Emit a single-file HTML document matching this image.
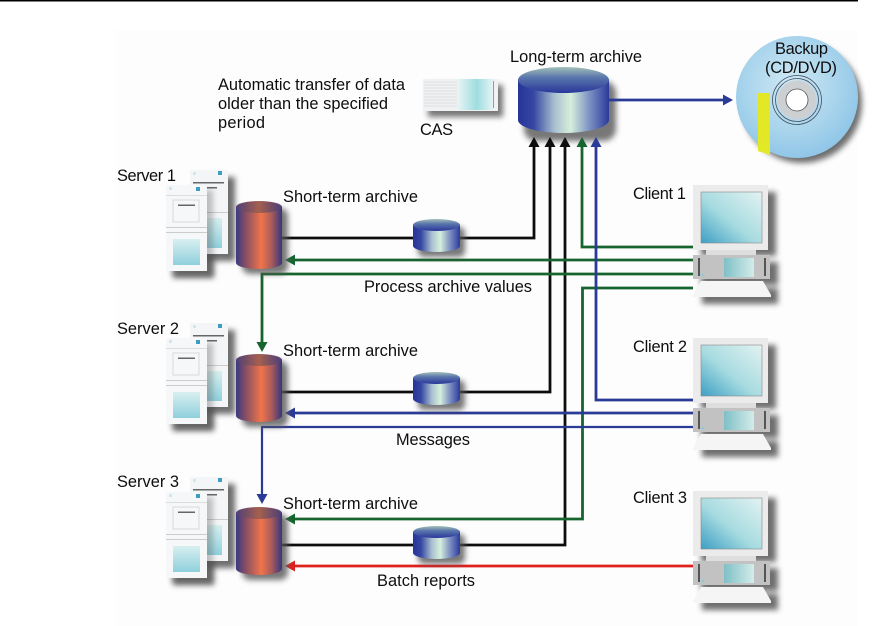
<!DOCTYPE html>
<html><head><meta charset="utf-8"><style>
html,body{margin:0;padding:0;background:#fff}
svg{display:block}
text{font-family:"Liberation Sans",sans-serif;font-size:16.4px;fill:#111}
</style></head><body>
<svg width="881" height="626" viewBox="0 0 881 626" xmlns="http://www.w3.org/2000/svg">
<defs>
<linearGradient id="blue" x1="0" x2="1" y1="0" y2="0">
<stop offset="0" stop-color="#27349a"/><stop offset=".17" stop-color="#3546a2"/><stop offset=".4" stop-color="#a9bfd0"/><stop offset=".58" stop-color="#d6efdc"/><stop offset=".78" stop-color="#7f93c4"/><stop offset="1" stop-color="#2b3a9c"/>
</linearGradient>
<linearGradient id="bluetop" x1="0" x2="0" y1="0" y2="1">
<stop offset="0" stop-color="#a2c0b8"/><stop offset=".4" stop-color="#5a76ac"/><stop offset="1" stop-color="#28379a"/>
</linearGradient>
<linearGradient id="orange" x1="0" x2="1" y1="0" y2="0">
<stop offset="0" stop-color="#3a3a80"/><stop offset=".22" stop-color="#8a5064"/><stop offset=".55" stop-color="#f0744a"/><stop offset=".78" stop-color="#a85a5c"/><stop offset="1" stop-color="#35367e"/>
</linearGradient>
<linearGradient id="orangetop" x1="0" x2="1" y1="0" y2="0">
<stop offset="0" stop-color="#4f3f78"/><stop offset=".5" stop-color="#a5604e"/><stop offset="1" stop-color="#4a3e7a"/>
</linearGradient>
<linearGradient id="screen" x1="1" x2="0" y1="0" y2="1">
<stop offset="0" stop-color="#e3f2f2"/><stop offset=".55" stop-color="#a6dbe0"/><stop offset="1" stop-color="#3d9fc4"/>
</linearGradient>
<linearGradient id="pane" x1="0" x2="0" y1="0" y2="1">
<stop offset="0" stop-color="#d8eff0"/><stop offset="1" stop-color="#8fd0dc"/>
</linearGradient>
<linearGradient id="small" x1="0" x2="1" y1="0" y2="0">
<stop offset="0" stop-color="#7fc0c6"/><stop offset="1" stop-color="#d3eceb"/>
</linearGradient>
<linearGradient id="casg" x1="0" x2="1" y1="0" y2="0">
<stop offset="0" stop-color="#eaf5f5"/><stop offset=".55" stop-color="#9fdde0"/><stop offset="1" stop-color="#e6f4f4"/>
</linearGradient>
<radialGradient id="disc" cx=".45" cy=".4" r=".7">
<stop offset="0" stop-color="#cfe8f4"/><stop offset=".55" stop-color="#a8d4ec"/><stop offset="1" stop-color="#86c0e6"/>
</radialGradient>
<filter id="sh" filterUnits="userSpaceOnUse" x="100" y="20" width="781" height="606"><feGaussianBlur stdDeviation="3"/></filter>
<filter id="soft" filterUnits="userSpaceOnUse" x="0" y="0" width="881" height="626"><feGaussianBlur stdDeviation="0.350"/></filter>

<g id="server-shadow">
<rect x="197" y="177" width="38" height="84" fill="#555" opacity=".85" filter="url(#sh)"/>
<rect x="173" y="192" width="41" height="86" fill="#555" opacity=".85" filter="url(#sh)"/>
</g>
<g id="server">
<rect x="190" y="170" width="38" height="84" fill="#f4f5f7"/>
<rect x="193" y="172" width="3" height="3" fill="#cfe8ee"/><rect x="218" y="171" width="4" height="4" fill="#3d9cc0"/>
<rect x="193" y="182" width="31" height="1.500" fill="#666"/>
<rect x="205" y="187" width="12" height="1.500" fill="#666"/>
<rect x="190" y="212" width="38" height="1" fill="#ccc"/>
<rect x="198" y="218" width="24" height="30" fill="url(#pane)"/>
<rect x="172" y="190" width="41" height="86" fill="#555" opacity=".35" filter="url(#sh)"/>
<rect x="166" y="185" width="41" height="86" fill="#f6f7f9"/>
<rect x="169" y="187" width="3" height="3" fill="#cfe8ee"/><rect x="196" y="187" width="4" height="4" fill="#3d9cc0"/>
<rect x="166" y="195" width="41" height="1" fill="#ddd"/>
<rect x="173" y="200" width="26" height="22" fill="none" stroke="#d8d8d8"/>
<rect x="178" y="204.500" width="17" height="1.500" fill="#666"/>
<rect x="166" y="227" width="41" height="1" fill="#ccc"/><rect x="166" y="232" width="41" height="1" fill="#ccc"/>
<rect x="173" y="239" width="27" height="26" fill="url(#pane)"/>
</g>

<g id="client">
<path d="M701 192h75v64h-75zM701 262h77v23h-77zM702 288h76v16h-76z" fill="#555" opacity=".85" filter="url(#sh)"/>
<rect x="693" y="185" width="75" height="65" fill="#ebebeb"/>
<rect x="701" y="192" width="61" height="51" fill="url(#screen)" stroke="#888" stroke-width=".6"/>
<rect x="706" y="250" width="50" height="5" fill="#dedede"/>
<rect x="693" y="255" width="77" height="24" fill="#c2c2c2"/>
<rect x="698" y="258" width="2" height="18" fill="#555"/><rect x="764" y="258" width="2" height="18" fill="#555"/>
<rect x="724" y="258" width="30" height="19" fill="url(#small)"/>
<circle cx="703" cy="275" r="1.500" fill="#8fcbd6"/>
<path d="M701 281h62l8 14v2h-78v-2z" fill="#f5f5f5"/>
</g>

<g id="short">
<rect x="242" y="208" width="46" height="66" rx="8" fill="#555" opacity=".8" filter="url(#sh)"/>
<path d="M236 207v56a23 6 0 0 0 46 0v-56z" fill="url(#orange)"/>
<ellipse cx="259" cy="207" rx="23" ry="6" fill="url(#orangetop)"/>
</g>

<g id="mini">
<rect x="418" y="227" width="47" height="30" rx="6" fill="#555" opacity=".8" filter="url(#sh)"/>
<path d="M413 225v21a23.500 6 0 0 0 47 0v-21z" fill="url(#blue)"/>
<ellipse cx="436.500" cy="225" rx="23.500" ry="6" fill="url(#bluetop)"/>
</g>
</defs>

<rect x="0" y="0" width="858" height="1.500" fill="#000"/>
<rect x="116" y="30" width="742" height="596" fill="#fdfdfd"/>

<g filter="url(#soft)">
<!-- CAS -->
<rect x="428" y="85" width="75" height="32" fill="#555" opacity=".8" filter="url(#sh)"/>
<rect x="423" y="79" width="75" height="32" fill="#f0f1f3"/>
<path d="M424 82h33M424 85h33M424 88h33M424 91h33M424 94h33M424 97h33M424 100h33M424 103h33M424 106h33" stroke="#dcdfe2" stroke-width="1"/>
<rect x="457" y="79" width="36" height="31" fill="url(#casg)"/>
<rect x="493" y="81" width="1" height="27" fill="#999"/>

<!-- Long-term archive -->
<rect x="524" y="81" width="92" height="60" rx="12" fill="#555" opacity=".8" filter="url(#sh)"/>
<path d="M518 80v40a45.500 13 0 0 0 91 0v-40z" fill="url(#blue)"/>
<ellipse cx="563.500" cy="80" rx="45.500" ry="13" fill="url(#bluetop)"/>

<!-- Disc -->
<circle cx="802" cy="103" r="60" fill="#555" opacity=".85" filter="url(#sh)"/>
<circle cx="797" cy="97" r="61" fill="url(#disc)"/>
<path d="M758 93h12v62l-12-4z" fill="#e2e827"/>
<circle cx="797" cy="100" r="24.500" fill="none" stroke="#3f4f60" stroke-width=".8"/>
<circle cx="797" cy="100" r="21.500" fill="none" stroke="#3f4f60" stroke-width=".8"/>
<circle cx="797" cy="100" r="19.500" fill="#cdd0d2"/>
<circle cx="797" cy="100" r="11" fill="#fff" stroke="#555" stroke-width=".8"/>

<use href="#server-shadow"/>
<use href="#server-shadow" y="153"/>
<use href="#server-shadow" y="307"/>
<use href="#server"/>
<use href="#server" y="153"/>
<use href="#server" y="307"/>
<use href="#client"/>
<use href="#client" y="153"/>
<use href="#client" y="306"/>

<g fill="none" stroke-width="2.800">
<!-- black -->
<path d="M282 238H534V146M282 392H550V146M282 545H565V146" stroke="#0c0c0c"/>
<!-- green -->
<path d="M693 247H582V146" stroke="#17652f"/>
<path d="M693 260H294" stroke="#17652f"/>
<path d="M693 274H262V344" stroke="#17652f"/>
<path d="M693 288H582.500V519H294" stroke="#17652f"/>
<!-- blue -->
<path d="M693 400H596V146" stroke="#2a3a96"/>
<path d="M693 413H294" stroke="#2a3a96"/>
<path d="M693 427H262V496" stroke="#2a3a96" stroke-width="2.200"/>
<!-- red -->
<path d="M693 566H294" stroke="#e0201e"/>
<!-- backup -->
<path d="M609 100H726" stroke="#2a3a96"/>
</g>

<!-- arrowheads -->
<path d="M534 137l-5.500 10h11z" fill="#0c0c0c"/>
<path d="M550 137l-5.500 10h11z" fill="#0c0c0c"/>
<path d="M565 137l-5.500 10h11z" fill="#0c0c0c"/>
<path d="M582 137l-5.500 10h11z" fill="#17652f"/>
<path d="M596 137l-5.500 10h11z" fill="#2a3a96"/>
<path d="M733 100l-10-5.500v11z" fill="#2a3a96"/>
<path d="M285 260l10-5.500v11z" fill="#17652f"/>
<path d="M285 413l10-5.500v11z" fill="#2a3a96"/>
<path d="M285 519l10-5.500v11z" fill="#17652f"/>
<path d="M285 566l10-5.500v11z" fill="#e0201e"/>
<path d="M262 352l-5.500-10h11z" fill="#17652f"/>
<path d="M262 504l-5.500-10h11z" fill="#2a3a96"/>

<use href="#short" y="0"/>
<use href="#short" y="153"/>
<use href="#short" y="306"/>
<use href="#mini"/>
<use href="#mini" y="153"/>
<use href="#mini" y="307"/>

<!-- labels -->
<text x="510" y="62" textLength="132">Long-term archive</text>
<text x="775" y="54" textLength="53">Backup</text>
<text x="765" y="73" textLength="72">(CD/DVD)</text>
<text x="218" y="90" textLength="187">Automatic transfer of data</text>
<text x="218" y="109" textLength="170">older than the specified</text>
<text x="218" y="128" textLength="47">period</text>
<text x="420" y="135" textLength="33">CAS</text>
<text x="633" y="199" textLength="53">Client 1</text>
<text x="633" y="352" textLength="54">Client 2</text>
<text x="633" y="503" textLength="54">Client 3</text>
<text x="117" y="181" textLength="59">Server 1</text>
<text x="117" y="334" textLength="62">Server 2</text>
<text x="117" y="487" textLength="62">Server 3</text>
<text x="283" y="202" textLength="135">Short-term archive</text>
<text x="283" y="356" textLength="135">Short-term archive</text>
<text x="283" y="509" textLength="135">Short-term archive</text>
<text x="364" y="292" textLength="168">Process archive values</text>
<text x="396" y="445" textLength="74">Messages</text>
<text x="377" y="586" textLength="98">Batch reports</text>
</g>
</svg>
</body></html>
